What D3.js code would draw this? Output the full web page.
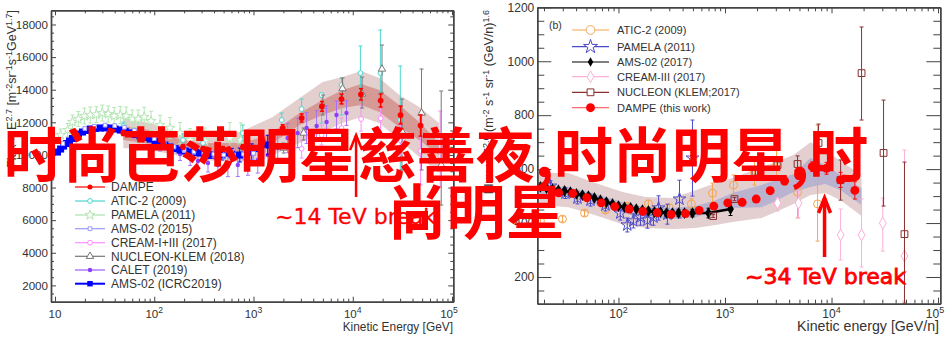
<!DOCTYPE html>
<html lang="zh">
<head>
    <meta charset="UTF-8">
    <title>DAMPE</title>
    <script src="https://cdn.jsdelivr.net/npm/d3@7/dist/d3.min.js"></script>
    <style>
        html, body { margin: 0; padding: 0; background: #fff; }
        svg { display: block; }
        text { font-family: "Liberation Sans", sans-serif; fill: #333; }
        .domain { stroke: #444; stroke-width: 1.4; }
        .tick line { stroke: #444; }
        .overlay { font-family: "Noto Sans CJK SC", sans-serif; font-weight: 700; font-size: 59px; fill: #f00; text-anchor: middle; }
        .note { font-family: "DejaVu Sans", sans-serif; fill: #f00; stroke: #f00; }
    </style>
</head>
<body>
<script>
    // left panel, all particle energy in GeV, flux x E^2.7
    const bandLeftE = [48.7, 91, 162, 289, 728, 1156, 1563, 2917, 4970, 7890, 12200, 18500, 29400, 46700, 74100];
    const bandLeftOuterHi = [12264, 11957, 11405, 11221, 11405, 11957, 12325, 13491, 14472, 14779, 15147, 14718, 13675, 12939, 11957];
    const bandLeftInnerHi = [11773, 11528, 11037, 10730, 10730, 11037, 11405, 12570, 13368, 13981, 14350, 13981, 13061, 12018, 10730];
    const bandLeftInnerLo = [10914, 10669, 10300, 10116, 10116, 10423, 10730, 11834, 12448, 12877, 13061, 12632, 11712, 10914, 9994];
    const bandLeftOuterLo = [10423, 10300, 9994, 9687, 9564, 9810, 9994, 10730, 11405, 11957, 12325, 11957, 10914, 9871, 8889];

    const dampeLeftE = [48.7, 77.4, 123, 195, 310, 492, 781, 1239, 1968, 3055, 4890, 7700, 12100, 19100, 30300, 48200];
    const dampeLeftV = [11343, 11037, 10730, 10485, 10362, 10362, 10485, 10853, 11650, 12264, 12982, 13430, 13718, 13337, 12448, 11804];
    const dampeLeftErr = [150, 150, 150, 150, 150, 150, 150, 200, 200, 250, 300, 300, 350, 400, 550, 650];

    const aticLeftE = [48.7, 195, 310, 781, 1924, 3055, 4855, 7710, 11940, 18970, 30130];
    const aticLeftV = [11773, 10914, 10730, 11343, 12141, 12816, 13675, 14288, 15024, 15024, 12141];
    const aticLeftHi = [12018, 11282, 11098, 11834, 12570, 13429, 13797, 14718, 16681, 17662, 15454];
    const aticLeftLo = [11528, 10546, 10300, 10853, 11528, 12264, 11957, 12448, 13368, 13797, 9074];

    const pamelaLeftE = [11.4, 13.4, 15, 17.2, 19.8, 22.7, 26.1, 30, 34.4, 39.5, 45.5, 52.2, 60, 68.9, 79.2, 93, 114.6, 144, 182, 230, 324, 578, 745];
    const pamelaLeftV = [11221, 11528, 12018, 12202, 12386, 12448, 12478, 12570, 12509, 12386, 12448, 12386, 12202, 12202, 12325, 12080, 11834, 11650, 11343, 10914, 10853, 11037, 10914];
    const pamelaLeftErr = [370, 400, 430, 460, 490, 490, 490, 490, 490, 520, 520, 550, 550, 550, 600, 600, 600, 650, 650, 700, 800, 950, 1050];

    const ams15LeftE = [12, 16, 20, 25, 32, 40, 50, 63, 80, 100, 126, 158, 200, 251, 316, 398, 501, 631, 794, 1000, 1259, 1585];
    const ams15LeftV = [10700, 11250, 11620, 11760, 11830, 11800, 11700, 11500, 11250, 11000, 10750, 10500, 10300, 10200, 10100, 10050, 10000, 10000, 10050, 10100, 10300, 10500];
    const ams15LeftErr = [100, 100, 100, 100, 100, 100, 100, 100, 100, 100, 120, 120, 150, 150, 180, 200, 250, 300, 350, 400, 500, 600];

    const creamLeftE = [3055, 4855, 7710, 12130, 19100, 30130, 48200, 76000];
    const creamLeftV = [10380, 11221, 11650, 12202, 12245, 10914, 10239, 9687];
    const creamLeftHi = [10914, 11834, 12264, 13061, 13368, 11834, 12141, 12693];
    const creamLeftLo = [9810, 10607, 10914, 11466, 11098, 9994, 8153, 8031];

    const nucleonLeftE = [2014, 3200, 5000, 7890, 12420, 19700, 31300, 49300, 77800];
    const nucleonLeftV = [10423, 11343, 13000, 14067, 13736, 15270, 11466, 12570, 9380];
    const nucleonLeftHi = [10730, 11650, 13675, 14718, 14779, 16742, 13429, 15270, 13920];
    const nucleonLeftLo = [10116, 10914, 12448, 13368, 12877, 13797, 9074, 9074, 6926];

    const caletLeftE = [114.6, 144, 182, 230, 276, 348, 438, 552, 695, 877, 1104, 1393, 1754, 2208, 2786, 3428, 4325, 5445, 6855, 8650];
    const caletLeftV = [10546, 10300, 10055, 9810, 9626, 9503, 9380, 9319, 9380, 9503, 9687, 9994, 10423, 11037, 11343, 11650, 11773, 12018, 12448, 12570];
    const caletLeftErr = [300, 350, 400, 450, 500, 550, 600, 650, 700, 750, 800, 850, 850, 900, 900, 950, 950, 1000, 860, 760];

    const amsLeftE = [10.6, 11.4, 12.2, 13.1, 14, 15, 16.1, 17.2, 18.9, 20.7, 22.7, 25.5, 28.6, 32.1, 36, 40.4, 45.5, 51, 57.3, 64.3, 72, 81, 91, 102, 114.6, 128, 144, 162, 182, 205, 230, 258, 289, 324, 364, 417, 481, 605, 728, 961, 1393];
    const amsLeftV = [10178, 10362, 10546, 10700, 10853, 11010, 11160, 11280, 11405, 11500, 11590, 11630, 11651, 11660, 11651, 11590, 11528, 11440, 11344, 11250, 11160, 11070, 10976, 10850, 10730, 10610, 10485, 10390, 10300, 10240, 10178, 10150, 10116, 10055, 9994, 9994, 9994, 10055, 9994, 10178, 10607];
    const amsLeftErr = [60, 60, 60, 60, 60, 60, 60, 60, 60, 60, 60, 60, 60, 60, 60, 60, 60, 60, 60, 60, 60, 60, 60, 80, 80, 80, 100, 100, 100, 120, 120, 150, 150, 180, 200, 250, 300, 350, 430, 500, 600];

    // right panel, energy in GeV/n, flux x E^2.6
    const bandRightE = [17.3, 33.9, 57, 109, 179, 321, 529, 814, 1176, 2200, 2850, 4395, 6350, 8790, 12170, 19150];
    const bandRightOuterHi = [586, 586, 552, 515, 497, 493, 522, 548, 567, 608, 623, 652, 700, 671, 630, 578];
    const bandRightInnerHi = [537, 534, 511, 478, 459, 456, 463, 485, 511, 541, 556, 582, 641, 615, 578, 530];
    const bandRightInnerLo = [500, 497, 474, 437, 419, 415, 422, 445, 456, 459, 478, 515, 534, 545, 522, 467];
    const bandRightOuterLo = [467, 459, 433, 396, 382, 378, 382, 393, 404, 419, 437, 471, 504, 511, 485, 426];

    const aticRightE = [18.5, 29.8, 48, 75.5, 121, 191, 301, 484, 763, 1203, 1892, 3050, 4800, 7400];
    const aticRightV = [408, 415, 437, 448, 463, 471, 456, 471, 511, 541, 589, 615, 515, 471];
    const aticRightHi = [419, 426, 448, 459, 474, 485, 470, 490, 548, 578, 641, 700, 574, 763];
    const aticRightLo = [397, 404, 426, 437, 452, 457, 442, 452, 474, 504, 541, 560, 419, 333];

    const pamelaRightE = [23, 31.8, 41.2, 54.6, 75.5, 104, 121, 138, 161, 187, 213, 238, 288, 374, 495];
    const pamelaRightV = [537, 511, 493, 485, 467, 437, 393, 408, 422, 411, 422, 456, 433, 489, 641];
    const pamelaRightErr = [20, 20, 22, 22, 22, 26, 26, 26, 30, 30, 30, 45, 37, 70, 141];

    const amsRightE = [18.5, 21.1, 24, 27.3, 31.1, 35.4, 40.3, 45.9, 52.2, 59.5, 67.7, 77.1, 87.9, 100, 114, 130, 147, 168, 191, 218, 248, 282, 321, 366, 417, 495, 700, 1127];
    const amsRightV = [534, 530, 526, 522, 519, 515, 508, 504, 500, 493, 485, 478, 471, 463, 459, 456, 452, 448, 445, 441, 441, 437, 437, 437, 437, 437, 437, 452];
    const amsRightErr = [8, 8, 8, 8, 8, 8, 8, 8, 8, 8, 8, 8, 8, 8, 8, 8, 8, 8, 10, 10, 10, 10, 10, 12, 12, 14, 18, 24];

    const creamRightE = [3112, 4900, 12170, 19150, 30300, 48400];
    const creamRightV = [474, 474, 356, 356, 400, 278];
    const creamRightHi = [493, 522, 452, 489, 493, 671];
    const creamRightLo = [445, 419, 263, 237, 296, 111];

    const nucleonRightE = [774, 1227, 1932, 3112, 4800, 7550, 12170, 19150, 30800, 48400];
    const nucleonRightV = [426, 489, 589, 615, 619, 697, 560, 956, 660, 359];
    const nucleonRightHi = [431, 495, 600, 627, 649, 767, 634, 1127, 856, 626];
    const nucleonRightLo = [421, 483, 578, 596, 567, 615, 485, 782, 463, 103];

    const dampeRightE = [27.5, 37.2, 50.4, 68.9, 92.3, 126, 169, 231, 312, 426, 572, 785, 1062, 1449, 1963, 2656, 3625, 4900, 6590, 8980, 12170, 16560];
    const dampeRightV = [512, 510, 494, 475, 461, 452, 443, 438, 432, 435, 447, 463, 475, 477, 489, 520, 556, 578, 609, 603, 560, 521];
    const dampeRightErr = [4, 4, 4, 4, 4, 4, 4, 4, 5, 5, 5, 6, 8, 8, 10, 12, 14, 16, 18, 22, 28, 32];

    const legendLeft = ['DAMPE', 'ATIC-2 (2009)', 'PAMELA (2011)', 'AMS-02 (2015)', 'CREAM-I+III (2017)', 'NUCLEON-KLEM (2018)', 'CALET (2019)', 'AMS-02 (ICRC2019)'];
    const legendRight = ['ATIC-2 (2009)', 'PAMELA (2011)', 'AMS-02 (2017)', 'CREAM-III (2017)', 'NUCLEON (KLEM;2017)', 'DAMPE (this work)'];
    const yTicksLeft = [2000, 4000, 6000, 8000, 10000, 12000, 14000, 16000, 18000];
    const yTicksRight = [200, 400, 600, 800, 1000, 1200];
    const overlayLines = ['时尚芭莎明星慈善夜,时尚明星,时', '尚明星'];

    const width = 951;
    const height = 352;
    const svg = d3.select('body').append('svg').attr('width', width).attr('height', height);

    const xLeft = d3.scaleLog().domain([9.12, 103000]).range([51, 453.3]);
    const yLeft = d3.scaleLinear().domain([1000, 18870]).range([301.7, 10.3]);
    const xRight = d3.scaleLog().domain([17.3, 105000]).range([537.3, 940.3]);
    const yRight = d3.scaleLinear().domain([101, 1200]).range([303.7, 7.3]);

    function band(x, y, es, hi, lo, color) {
        const area = d3.area().x((d, i) => x(es[i])).y0((d, i) => y(lo[i])).y1((d, i) => y(hi[i]));
        svg.append('path').attr('d', area(es)).attr('fill', color);
    }

    function series(x, y, s) {
        const g = svg.append('g');
        const pts = s.e.map((e, i) => ({
            e: e,
            v: s.v[i],
            hi: s.err ? s.v[i] + s.err[i] : s.hi[i],
            lo: s.err ? s.v[i] - s.err[i] : s.lo[i]
        }));
        if (s.line) {
            g.append('path')
                .attr('d', d3.line().x(d => x(d.e)).y(d => y(d.v))(pts))
                .attr('fill', 'none').attr('stroke', s.color).attr('stroke-width', s.line);
        }
        const bars = g.selectAll('g').data(pts).enter().append('g')
            .attr('stroke', s.barColor || s.color).attr('stroke-width', s.barWidth || 1);
        bars.append('line')
            .attr('x1', d => x(d.e)).attr('x2', d => x(d.e))
            .attr('y1', d => y(d.hi)).attr('y2', d => y(d.lo));
        bars.append('line')
            .attr('x1', d => x(d.e) - 2).attr('x2', d => x(d.e) + 2)
            .attr('y1', d => y(d.hi)).attr('y2', d => y(d.hi));
        bars.append('line')
            .attr('x1', d => x(d.e) - 2).attr('x2', d => x(d.e) + 2)
            .attr('y1', d => y(d.lo)).attr('y2', d => y(d.lo));
        g.selectAll('path.mark').data(pts).enter().append('path')
            .attr('class', 'mark')
            .attr('d', d3.symbol().type(s.symbol).size(s.size))
            .attr('transform', d => `translate(${x(d.e)},${y(d.v)})`)
            .attr('fill', s.open ? '#fff' : s.color)
            .attr('fill-opacity', s.open === 'clear' ? 0 : 1)
            .attr('stroke', s.color)
            .attr('stroke-width', s.open ? 1 : 0);
    }

    // 2..9 x 10^k minor ticks of a log axis
    function minorLog(domain) {
        const out = [];
        for (let k = 0; k <= 4; k++) {
            for (let m = 2; m <= 9; m++) {
                const t = m * Math.pow(10, k);
                if (t >= domain[0] && t <= domain[1]) out.push(t);
            }
        }
        return out;
    }

    function frame(x, y, o) {
        const [l, r] = x.range();
        const [b, t] = y.range();
        const majorsX = [10, 100, 1000, 10000, 100000].filter(d => d >= x.domain()[0]);
        [[d3.axisBottom(x), b, 1], [d3.axisTop(x), t, 1]].forEach(([ax, ty, sign]) => {
            svg.append('g').attr('transform', `translate(0,${ty})`)
                .call(ax.tickValues(minorLog(x.domain())).tickSizeInner(-o.xMinor * sign).tickSizeOuter(0).tickFormat(''));
            svg.append('g').attr('transform', `translate(0,${ty})`)
                .call(ax.tickValues(majorsX).tickSizeInner(-o.xMajor * sign).tickSizeOuter(0).tickFormat(''));
        });
        // y axes, minor ticks first
        const minorY = d3.range(o.yMinorStep, y.domain()[1], o.yMinorStep).filter(d => d >= y.domain()[0] && !o.yTicks.includes(d));
        [[d3.axisLeft(y), l], [d3.axisRight(y), r]].forEach(([ax, tx]) => {
            svg.append('g').attr('transform', `translate(${tx},0)`)
                .call(ax.tickValues(minorY).tickSizeInner(-o.yMinor).tickSizeOuter(0).tickFormat(''));
            svg.append('g').attr('transform', `translate(${tx},0)`)
                .call(ax.tickValues(o.yTicks).tickSizeInner(-o.yMajor).tickSizeOuter(0).tickFormat(''));
        });
        svg.append('g').selectAll('text').data(o.yTicks).enter().append('text')
            .attr('x', l - 3).attr('y', d => y(d)).attr('dy', '0.36em')
            .attr('text-anchor', 'end').attr('font-size', o.tickFont).text(d => d);
        const labels = svg.append('g').selectAll('text').data(majorsX).enter().append('text')
            .attr('x', d => x(d) - (d === 100000 ? 3 : 0)).attr('y', 318)
            .attr('text-anchor', 'middle').attr('font-size', o.tickFont);
        labels.each(function (d) {
            const exp = Math.round(Math.log10(d));
            const el = d3.select(this);
            if (exp === 1) { el.text('10'); return; }
            el.append('tspan').text('10');
            el.append('tspan').attr('dy', -5).attr('font-size', o.tickFont - 3).text(exp);
        });
    }

    function supText(parent, parts) {
        parts.forEach(p => {
            const isSup = p[0] === '^';
            const sp = parent.append('tspan').text(isSup ? p.slice(1) : p);
            if (isSup) sp.attr('dy', -4).attr('font-size', '0.72em');
            else sp.attr('dy', parent.selectAll('tspan').size() > 1 ? 4 : 0);
        });
    }

    function legend(rows, x1, x2, tx, ys, font, specs) {
        rows.forEach((name, i) => {
            const s = specs[i];
            const g = svg.append('g');
            g.append('line').attr('x1', x1).attr('x2', x2).attr('y1', ys[i]).attr('y2', ys[i])
                .attr('stroke', s.legendColor || s.color).attr('stroke-width', s.legendWidth || 1.2);
            g.append('path').attr('d', d3.symbol().type(s.symbol).size(s.legendSize || s.size))
                .attr('transform', `translate(${(x1 + x2) / 2},${ys[i]})`)
                .attr('fill', s.open ? '#fff' : s.color)
                .attr('stroke', s.color).attr('stroke-width', s.open ? 1 : 0);
            g.append('text').attr('x', tx).attr('y', ys[i]).attr('dy', '0.36em')
                .attr('font-size', font).text(name);
        });
    }

    // left panel
    band(xLeft, yLeft, bandLeftE, bandLeftOuterHi, bandLeftOuterLo, '#e3cfcd');
    band(xLeft, yLeft, bandLeftE, bandLeftInnerHi, bandLeftInnerLo, '#d69a96');

    const sPamelaL = {e: pamelaLeftE, v: pamelaLeftV, err: pamelaLeftErr, color: '#b5e6b5', symbol: d3.symbolStar, size: 30, open: true, legendColor: '#cdeecd', legendWidth: 2};
    const sAms15L = {e: ams15LeftE, v: ams15LeftV, err: ams15LeftErr, color: '#9a9aff', symbol: d3.symbolSquare, size: 14, open: true};
    const sAticL = {e: aticLeftE, v: aticLeftV, hi: aticLeftHi, lo: aticLeftLo, color: '#4dd6d0', symbol: d3.symbolCircle, size: 18, open: true};
    const sCreamL = {e: creamLeftE, v: creamLeftV, hi: creamLeftHi, lo: creamLeftLo, color: '#ff8cff', symbol: d3.symbolCircle, size: 18, open: true};
    const sNucleonL = {e: nucleonLeftE, v: nucleonLeftV, hi: nucleonLeftHi, lo: nucleonLeftLo, color: '#777', symbol: d3.symbolTriangle, size: 24, open: true};
    const sCaletL = {e: caletLeftE, v: caletLeftV, err: caletLeftErr, color: '#8a3cff', symbol: d3.symbolCircle, size: 15, barColor: '#a870ff', legendColor: '#c79cff', legendWidth: 2};
    const sAmsL = {e: amsLeftE, v: amsLeftV, err: amsLeftErr, color: '#0000ff', symbol: d3.symbolSquare, size: 50, line: 4, legendWidth: 2, legendSize: 30};
    const sDampeL = {e: dampeLeftE, v: dampeLeftV, err: dampeLeftErr, color: '#f00', symbol: d3.symbolCircle, size: 26, barWidth: 1.5, legendSize: 20};

    [sPamelaL, sAticL, sCreamL, sNucleonL, sCaletL, sAmsL, sAms15L, sDampeL].forEach(s => series(xLeft, yLeft, s));

    frame(xLeft, yLeft, {xMajor: 5, xMinor: 3, yMajor: 5, yMinor: 3, yMinorStep: 500, yTicks: yTicksLeft, tickFont: 11.6});
    legend(legendLeft, 75, 105, 111, [187, 201, 215, 228.7, 242.7, 256.3, 270, 283.7], 12,
        [sDampeL, sAticL, sPamelaL, sAms15L, sCreamL, sNucleonL, sCaletL, sAmsL]);

    svg.append('text').attr('x', 453).attr('y', 331).attr('text-anchor', 'end').attr('font-size', 11.9).text('Kinetic Energy [GeV]');
    supText(svg.append('text').attr('text-anchor', 'end').attr('font-size', 12.5)
        .attr('transform', 'translate(16,10) rotate(-90)'),
        ['Flux × E', '^2.7', ' [m', '^-2', 'sr', '^-1', 's', '^-1', 'GeV', '^1.7', ']']);

    // right panel
    band(xRight, yRight, bandRightE, bandRightOuterHi, bandRightOuterLo, '#e3cfcf');
    band(xRight, yRight, bandRightE, bandRightInnerHi, bandRightInnerLo, '#b9b3cf');

    const sAticR = {e: aticRightE, v: aticRightV, hi: aticRightHi, lo: aticRightLo, color: '#f5a650', symbol: d3.symbolCircle, size: 50, open: 'clear', legendSize: 60};
    const sPamelaR = {e: pamelaRightE, v: pamelaRightV, err: pamelaRightErr, color: '#4a4acb', symbol: d3.symbolStar, size: 50, open: 'clear', legendSize: 60};
    const sAmsR = {e: amsRightE, v: amsRightV, err: amsRightErr, color: '#000', symbol: d3.symbolDiamond, size: 40, line: 2.5, legendSize: 26};
    const sCreamR = {e: creamRightE, v: creamRightV, hi: creamRightHi, lo: creamRightLo, color: '#fdb0d8', symbol: d3.symbolDiamond, size: 40, open: true};
    const sNucleonR = {e: nucleonRightE, v: nucleonRightV, hi: nucleonRightHi, lo: nucleonRightLo, color: '#8a3030', symbol: d3.symbolSquare, size: 46, open: 'clear', legendSize: 46};
    const sDampeR = {e: dampeRightE, v: dampeRightV, err: dampeRightErr, color: '#f00', symbol: d3.symbolCircle, size: 62, legendColor: '#ff6a6a'};

    [sAticR, sPamelaR, sAmsR, sCreamR, sNucleonR, sDampeR].forEach(s => series(xRight, yRight, s));

    frame(xRight, yRight, {xMajor: 6, xMinor: 4, yMajor: 14, yMinor: 7, yMinorStep: 50, yTicks: yTicksRight, tickFont: 12});
    legend(legendRight, 572, 609, 617, [30, 46.7, 62, 76.7, 92.3, 107.7], 11.1, [sAticR, sPamelaR, sAmsR, sCreamR, sNucleonR, sDampeR]);
    svg.append('text').attr('x', 549).attr('y', 29).attr('font-size', 10.5).text('(b)');
    svg.append('text').attr('x', 939).attr('y', 331).attr('text-anchor', 'end').attr('font-size', 14.2).text('Kinetic energy [GeV/n]');
    supText(svg.append('text').attr('text-anchor', 'end').attr('font-size', 12.5)
        .attr('transform', 'translate(493,10) rotate(-90)'),
        ['Flux × E', '^2.6', ' (m', '^-2', ' s', '^-1', ' sr', '^-1', ' (GeV/n)', '^1.6']);

    // arrows and break labels
    function arrow(x, y, e, tip, tail, w) {
        svg.append('line').attr('x1', x(e)).attr('x2', x(e)).attr('y1', y(tip)).attr('y2', y(tail))
            .attr('stroke', '#f00').attr('stroke-width', w);
        svg.append('path')
            .attr('d', d3.line()([[x(e) - 6, y(tip) + 15], [x(e), y(tip)], [x(e) + 6, y(tip) + 15]]))
            .attr('fill', 'none').attr('stroke', '#f00').attr('stroke-width', w);
    }
    arrow(xLeft, yLeft, 10800, 11220, 7420, 2.5);
    arrow(xRight, yRight, 8600, 493, 274, 3.5);
    svg.append('text').attr('class', 'note').attr('x', 275).attr('y', 224).attr('font-size', 22).attr('stroke-width', 0.3).text('~14 TeV break');
    svg.append('text').attr('class', 'note').attr('x', 745).attr('y', 284).attr('font-size', 22).attr('stroke-width', 0.8).text('~34 TeV break');

    // big overlay caption
    svg.append('g').selectAll('text').data(overlayLines).enter().append('text')
        .attr('class', 'overlay').attr('x', 436).attr('y', (d, i) => 177 + i * 57).attr('dx', (d, i) => i ? 40 : 0).text(d => d);
</script>
</body>
</html>
